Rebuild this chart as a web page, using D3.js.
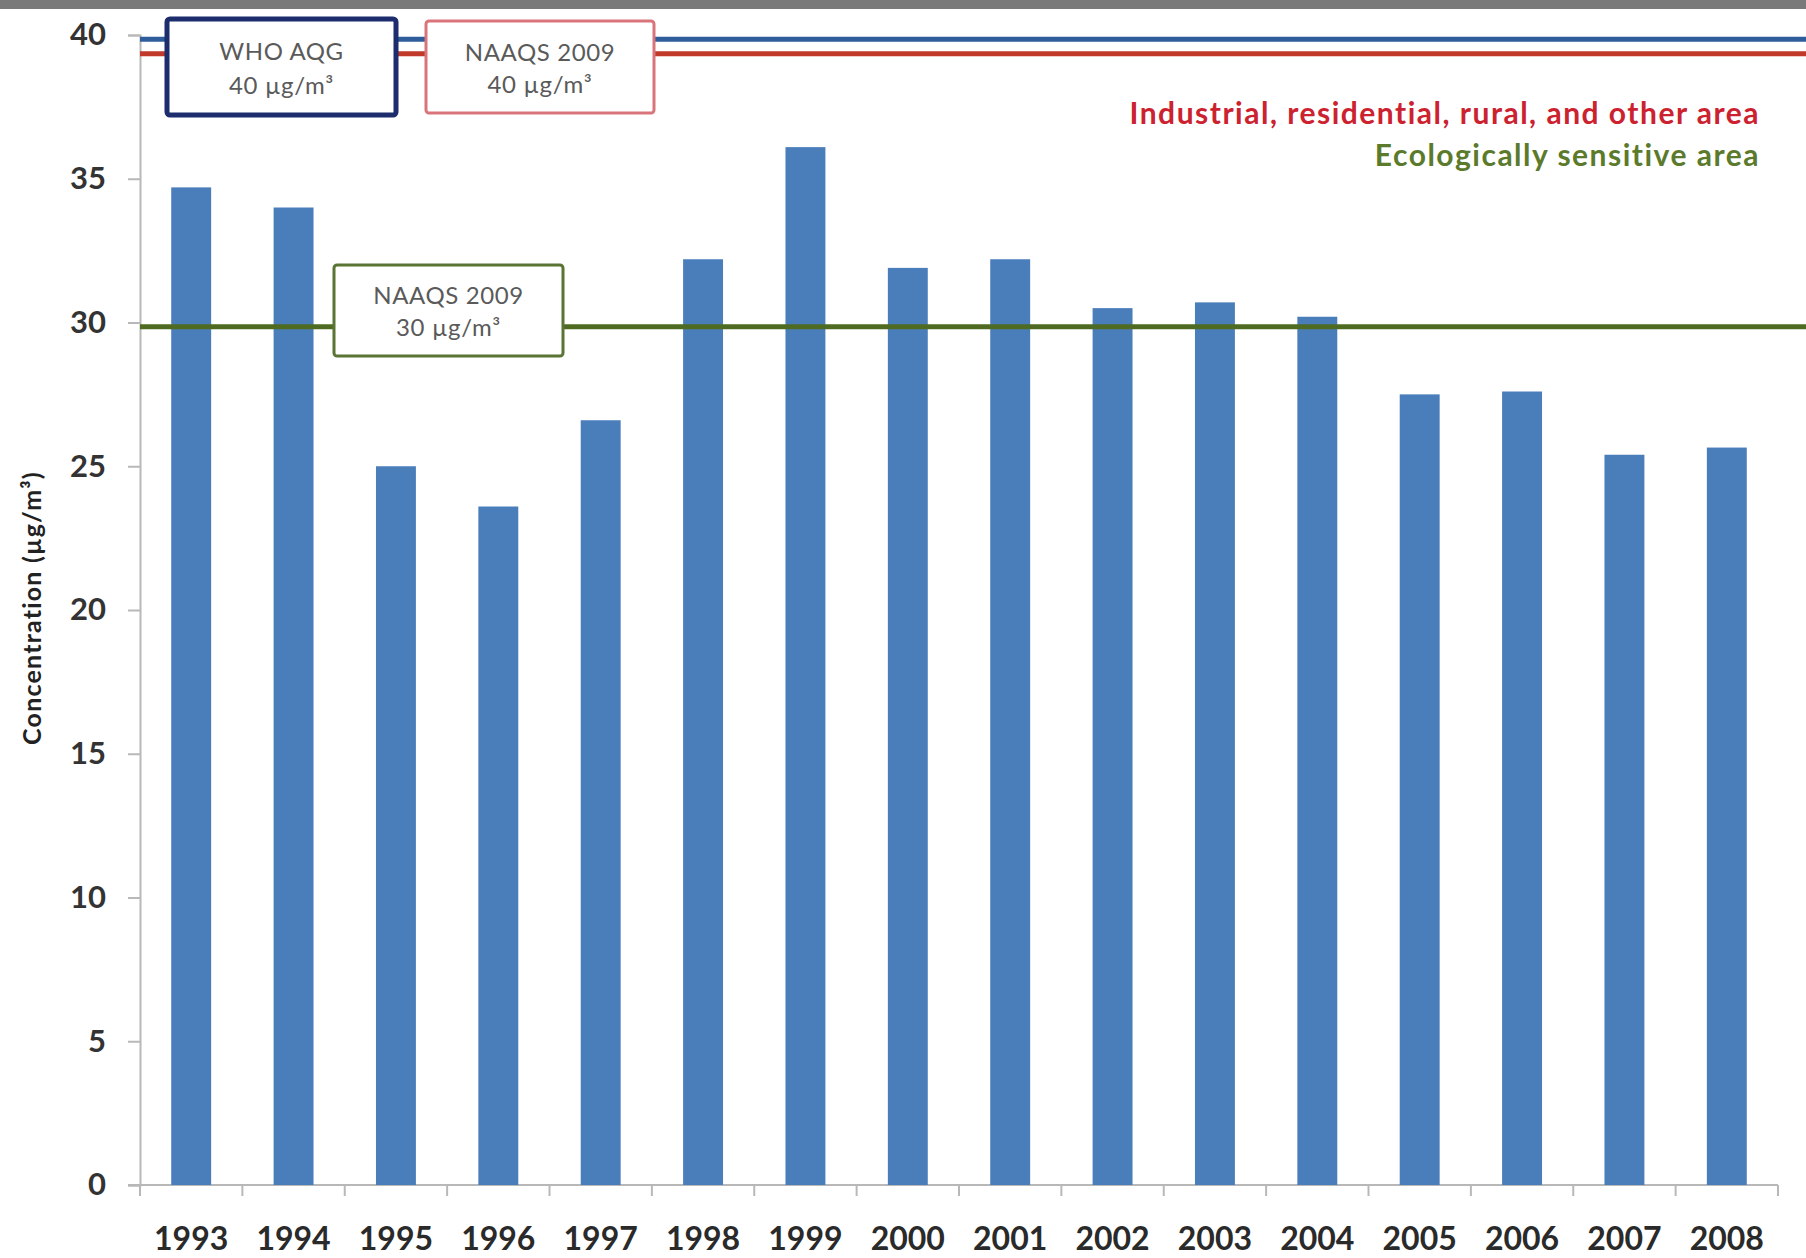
<!DOCTYPE html>
<html>
<head>
<meta charset="utf-8">
<script src="https://cdn.jsdelivr.net/npm/d3@7"></script>
<style>
  body { margin: 0; background: #fff; }
  svg { display: block; font-family: Lato, "Open Sans", sans-serif; }
</style>
</head>
<body>
<div id="chart"></div>
<script>
// annual mean concentration
const years = ["1993", "1994", "1995", "1996", "1997", "1998", "1999", "2000",
               "2001", "2002", "2003", "2004", "2005", "2006", "2007", "2008"];
const concentration = [34.7, 34.0, 25.0, 23.6, 26.6, 32.2, 36.1, 31.9,
                       32.2, 30.5, 30.7, 30.2, 27.5, 27.6, 25.4, 25.65];
const yTicks = [0, 5, 10, 15, 20, 25, 30, 35, 40];

// limit lines (drawn slightly apart in the original so both 40 lines show)
const limitNames = ["WHO AQG", "NAAQS 2009", "NAAQS 2009"];
const limitLabels = ["40 µg/m³", "40 µg/m³", "30 µg/m³"];
const limitValues = [39.85, 39.35, 29.85];

const legendLabels = ["Industrial, residential, rural, and other area", "Ecologically sensitive area"];

const W = 1806, H = 1258;
const margin = { top: 35, right: 28, bottom: 73, left: 140 };

const svg = d3.select("#chart").append("svg")
    .attr("width", W)
    .attr("height", H);

svg.append("rect").attr("width", W).attr("height", H).attr("fill", "#fff");
// grey strip along the top edge of the screenshot
svg.append("rect").attr("width", W).attr("height", 9).attr("fill", "#7a7a7a");

const x = d3.scaleBand()
    .domain(years)
    .range([margin.left, W - margin.right])
    .paddingInner(0.61)
    .paddingOuter(0.305);

const y = d3.scaleLinear()
    .domain([0, 40])
    .range([H - margin.bottom, margin.top]);

// Y axis
const yAxis = svg.append("g")
    .attr("transform", `translate(${margin.left},0)`)
    .call(d3.axisLeft(y).tickValues(yTicks).tickSize(12).tickPadding(22));
yAxis.select(".domain").attr("stroke", "#b8b8b8").attr("stroke-width", 2);
yAxis.selectAll(".tick line").attr("stroke", "#b8b8b8").attr("stroke-width", 2);
yAxis.selectAll(".tick text")
    .attr("font-size", 31)
    .attr("font-weight", "bold")
    .attr("fill", "#333")
    .attr("font-family", "Lato, sans-serif");

// X axis with ticks between the bars
const xAxisG = svg.append("g")
    .attr("transform", `translate(0,${y(0)})`);
xAxisG.append("line")
    .attr("x1", margin.left - 12)
    .attr("x2", W - margin.right)
    .attr("stroke", "#b8b8b8")
    .attr("stroke-width", 2);
const edges = years.map(d => x(d) - x.step() * x.paddingInner() / 2);
edges.push(W - margin.right);
xAxisG.selectAll("line.tk")
    .data(edges)
    .join("line")
    .attr("class", "tk")
    .attr("x1", d => d).attr("x2", d => d)
    .attr("y1", 0).attr("y2", 11)
    .attr("stroke", "#b8b8b8")
    .attr("stroke-width", 2);
xAxisG.selectAll("text")
    .data(years)
    .join("text")
    .attr("x", d => x(d) + x.bandwidth() / 2)
    .attr("y", 65)
    .attr("text-anchor", "middle")
    .attr("font-size", 32)
    .attr("font-weight", "bold")
    .attr("fill", "#2a2a2a")
    .text(d => d);

// Y title
svg.append("text")
    .attr("transform", `translate(41,${(y(0) + y(40)) / 2 - 2}) rotate(-90)`)
    .attr("text-anchor", "middle")
    .attr("font-size", 25)
    .attr("font-weight", "bold")
    .attr("letter-spacing", 1.2)
    .attr("fill", "#222")
    .text("Concentration (µg/m³)");

// Bars
svg.append("g")
    .selectAll("rect")
    .data(concentration)
    .join("rect")
    .attr("x", (d, i) => x(years[i]))
    .attr("y", d => y(d))
    .attr("width", x.bandwidth())
    .attr("height", d => y(0) - y(d))
    .attr("fill", "#4a7ebb");

// Limit lines
const lineColors = ["#2f5d9c", "#c0392b", "#4f6b22"];
svg.append("g")
    .selectAll("line")
    .data(limitValues)
    .join("line")
    .attr("x1", margin.left)
    .attr("x2", W)
    .attr("y1", d => y(d))
    .attr("y2", d => y(d))
    .attr("stroke", (d, i) => lineColors[i])
    .attr("stroke-width", 5);

// Annotation boxes
const boxes = [
    { x: 167, y: 19, w: 229, h: 96, stroke: "#1c2c6c", sw: 5 },
    { x: 426, y: 21, w: 228, h: 92, stroke: "#d9757a", sw: 3 },
    { x: 334, y: 265, w: 229, h: 91, stroke: "#5a7533", sw: 3 }
];
const boxG = svg.append("g")
    .selectAll("g")
    .data(boxes)
    .join("g")
    .attr("transform", d => `translate(${d.x},${d.y})`);
boxG.append("rect")
    .attr("width", d => d.w)
    .attr("height", d => d.h)
    .attr("rx", 3)
    .attr("fill", "#fff")
    .attr("stroke", d => d.stroke)
    .attr("stroke-width", d => d.sw);
boxG.append("text")
    .attr("x", d => d.w / 2)
    .attr("y", d => d.h * 0.34)
    .attr("dy", "0.35em")
    .attr("text-anchor", "middle")
    .attr("font-size", 24)
    .attr("letter-spacing", 0.6)
    .attr("fill", "#5a5a5a")
    .text((d, i) => limitNames[i]);
boxG.append("text")
    .attr("x", d => d.w / 2)
    .attr("y", d => d.h * 0.69)
    .attr("dy", "0.35em")
    .attr("text-anchor", "middle")
    .attr("font-size", 24)
    .attr("letter-spacing", 0.6)
    .attr("fill", "#5a5a5a")
    .text((d, i) => limitLabels[i]);

// Legend text
const legendColors = ["#cc2230", "#5b7a2c"];
svg.append("g")
    .selectAll("text")
    .data(legendLabels)
    .join("text")
    .attr("x", 1760)
    .attr("y", (d, i) => 113 + i * 42)
    .attr("dy", "0.35em")
    .attr("text-anchor", "end")
    .attr("font-size", 30)
    .attr("font-weight", "bold")
    .attr("letter-spacing", 1.5)
    .attr("fill", (d, i) => legendColors[i])
    .text(d => d);
</script>
</body>
</html>
